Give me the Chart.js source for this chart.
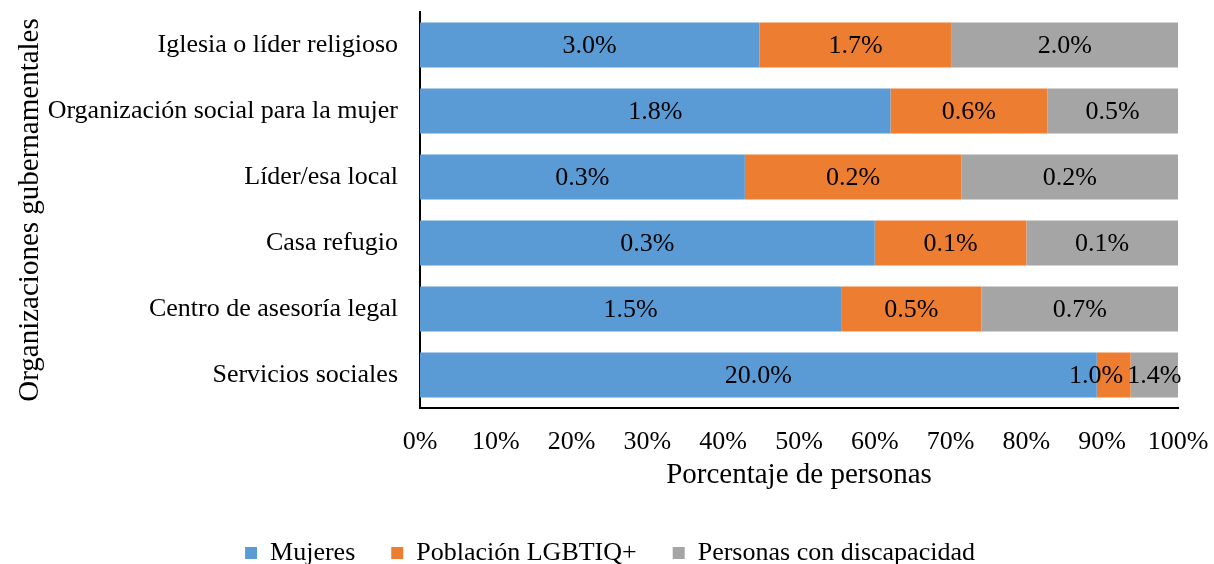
<!DOCTYPE html>
<html>
<head>
<meta charset="utf-8">
<script src="https://cdn.jsdelivr.net/npm/chart.js@4/dist/chart.umd.min.js"></script>
<style>
  body { margin: 0; background: #fff; }
</style>
</head>
<body>
<canvas id="chart" width="1214" height="564"></canvas>
<script>
// categories, top to bottom
const categories = [
  'Iglesia o líder religioso',
  'Organización social para la mujer',
  'Líder/esa local',
  'Casa refugio',
  'Centro de asesoría legal',
  'Servicios sociales'
];
// raw values shown on the bars (%)
const mujeres = [3.0, 1.8, 0.3, 0.3, 1.5, 20.0];
const lgbtiq = [1.7, 0.6, 0.2, 0.1, 0.5, 1.0];
const discapacidad = [2.0, 0.5, 0.2, 0.1, 0.7, 1.4];

const FONT = "'Liberation Serif', 'Times New Roman', serif";

// bars are drawn as share of the row total (100% stacked)
const totals = mujeres.map((v, i) => v + lgbtiq[i] + discapacidad[i]);
const share = arr => arr.map((v, i) => v / totals[i] * 100);

const rawValues = [mujeres, lgbtiq, discapacidad];

// simple inline data label plugin, nudges a label left when it would run into the next one
const barLabels = {
  id: 'barLabels',
  afterDatasetsDraw(chart) {
    const ctx = chart.ctx;
    ctx.save();
    ctx.font = '26px ' + FONT;
    ctx.fillStyle = '#000';
    ctx.textAlign = 'center';
    ctx.textBaseline = 'middle';
    const n = chart.data.labels.length;
    const nd = chart.data.datasets.length;
    for (let i = 0; i < n; i++) {
      const items = [];
      for (let di = 0; di < nd; di++) {
        const el = chart.getDatasetMeta(di).data[i];
        const txt = rawValues[di][i].toFixed(1) + '%';
        items.push({ txt, x: (el.x + el.base) / 2, y: el.y, w: ctx.measureText(txt).width });
      }
      for (let k = nd - 2; k >= 0; k--) {
        const a = items[k], b = items[k + 1];
        const limit = b.x - b.w / 2 - 4;
        if (a.x + a.w / 2 > limit) a.x = limit - a.w / 2;
      }
      items.forEach(it => ctx.fillText(it.txt, it.x, it.y + 1));
    }
    ctx.restore();
  }
};

// fixed legend height and centring so the plot area lands where the original has it
const legendPlace = {
  id: 'legendPlace',
  afterInit(chart) {
    const lg = chart.legend;
    const fit = lg.fit.bind(lg);
    lg.fit = function () { fit(); this.height = 60; };
  },
  afterLayout(chart) {
    chart.legend.left = 6;
    chart.legend.right = chart.width;
  }
};

new Chart(document.getElementById('chart'), {
  type: 'bar',
  data: {
    labels: categories,
    datasets: [
      { label: 'Mujeres', data: share(mujeres), backgroundColor: '#5B9BD5' },
      { label: 'Población LGBTIQ+', data: share(lgbtiq), backgroundColor: '#ED7D31' },
      { label: 'Personas con discapacidad', data: share(discapacidad), backgroundColor: '#A5A5A5' }
    ]
  },
  options: {
    indexAxis: 'y',
    responsive: false,
    animation: false,
    layout: { padding: { top: 12, right: 36, bottom: 0, left: 0 } },
    datasets: { bar: { barPercentage: 0.68, categoryPercentage: 1 } },
    scales: {
      x: {
        stacked: true,
        min: 0,
        max: 100,
        grid: { display: false, drawTicks: false },
        border: { display: true, color: '#000', width: 2 },
        ticks: {
          stepSize: 10,
          padding: 19,
          color: '#000',
          font: { family: FONT, size: 26 },
          callback: v => v + '%'
        },
        title: {
          display: true,
          text: 'Porcentaje de personas',
          color: '#000',
          font: { family: FONT, size: 29 },
          padding: { top: 0, bottom: 11 }
        },
        afterFit: s => { s.height = 96; s.paddingLeft = 0; s.paddingRight = 0; }
      },
      y: {
        stacked: true,
        grid: { display: false, drawTicks: false },
        border: { display: true, color: '#000', width: 2 },
        ticks: {
          padding: 22,
          color: '#000',
          font: { family: FONT, size: 26 }
        },
        title: {
          display: true,
          text: 'Organizaciones gubernamentales',
          color: '#000',
          font: { family: FONT, size: 29 },
          padding: { top: 13, bottom: 0 }
        },
        afterFit: s => { s.width = 420; s.paddingTop = 0; s.paddingBottom = 0; }
      }
    },
    plugins: {
      legend: {
        position: 'bottom',
        labels: {
          boxWidth: 12,
          boxHeight: 12,
          padding: 36,
          color: '#000',
          font: { family: FONT, size: 26 }
        }
      },
      tooltip: { enabled: false }
    }
  },
  plugins: [barLabels, legendPlace]
});
</script>
</body>
</html>
